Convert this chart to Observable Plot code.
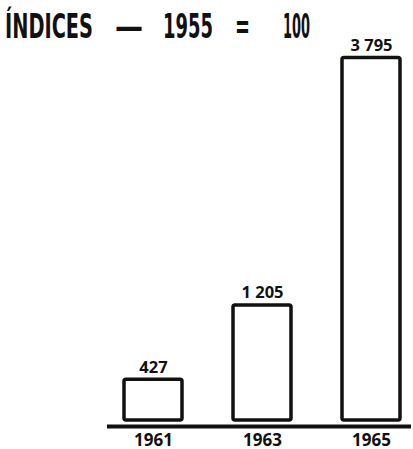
<!DOCTYPE html>
<html>
<head>
<meta charset="utf-8">
<script src="https://cdn.jsdelivr.net/npm/d3@7"></script>
<script src="https://cdn.jsdelivr.net/npm/@observablehq/plot@0.6"></script>
<style>
  html, body { margin: 0; padding: 0; background: #fff; }
  #wrap { position: relative; width: 413px; height: 449px; overflow: hidden; }
  svg { position: absolute; left: 0; top: 0; }
</style>
</head>
<body>
<div id="wrap"></div>
<script>
const years = ["1961", "1963", "1965"];
const values = [427, 1205, 3795];
const valueLabels = ["427", "1 205", "3 795"];
const titleWords = ["ÍNDICES", "—", "1955", "=", "100"];

const data = years.map((y, i) => ({year: y, value: values[i], label: valueLabels[i]}));

const wrap = document.getElementById("wrap");

const chart = Plot.plot({
  width: 413,
  height: 449,
  marginTop: 57.5,
  marginBottom: 29,
  marginLeft: 123,
  marginRight: 12,
  style: {background: "transparent", color: "#111"},
  x: {domain: years, paddingInner: 0.47, paddingOuter: 0, axis: null},
  y: {domain: [0, 3795], axis: null},
  marks: [
    Plot.barY(data, {x: "year", y: "value", fill: "white", stroke: "#111", strokeWidth: 3.5, rx: 2}),
    Plot.ruleY([0], {stroke: "#111", strokeWidth: 4, dy: 6, insetLeft: -16, insetRight: -10}),
    Plot.text(data, {x: "year", y: "value", text: "label", lineAnchor: "bottom", dy: -7,
      fontSize: 16.5, fontWeight: "bold", fontFamily: "'Open Sans', sans-serif", fill: "#111"}),
    Plot.text(data, {x: "year", y: 0, text: "year", lineAnchor: "bottom", dy: 25,
      fontSize: 17, fontWeight: "bold", fontFamily: "'Open Sans', sans-serif", fill: "#111"})
  ]
});
wrap.appendChild(chart);

// Title: condensed heavy words, horizontally squeezed to fit the original widths
const lefts = [5, 115, 163, 235, 283];
const widths = [88, 28, 50, 15, 27];
const svg = d3.select(chart);
const tg = svg.append("g")
  .attr("font-family", "'DejaVu Sans', sans-serif")
  .attr("font-weight", "bold")
  .attr("font-size", 33.5)
  .attr("text-anchor", "start")
  .attr("fill", "#111");
titleWords.forEach((w, i) => {
  const t = tg.append("text").attr("text-anchor", "start").text(w);
  const nat = t.node().getComputedTextLength();
  t.attr("transform", `translate(${lefts[i]},38) scale(${widths[i] / nat},1)`);
});
</script>
</body>
</html>
